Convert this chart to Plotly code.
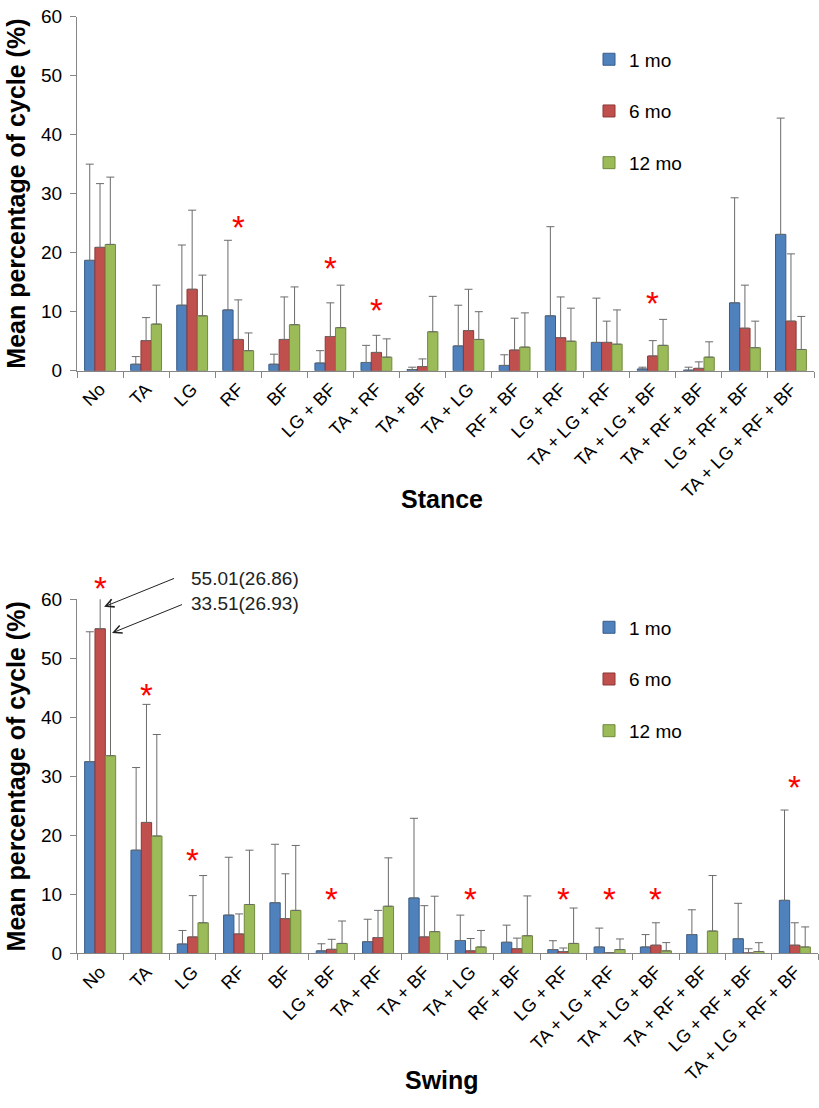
import plotly.graph_objects as go

W, H = 819, 1108

categories = ["No", "TA", "LG", "RF", "BF", "LG + BF", "TA + RF", "TA + BF", "TA + LG",
              "RF + BF", "LG + RF", "TA + LG + RF", "TA + LG + BF", "TA + RF + BF",
              "LG + RF + BF", "TA + LG + RF + BF"]
series_names = ["1 mo", "6 mo", "12 mo"]

# Stance: means and SD (upper error)
stance_1mo = [18.7, 1.1, 11.1, 10.3, 1.1, 1.3, 1.4, 0.2, 4.2, 0.9, 9.3, 4.8, 0.3, 0.1, 11.5, 23.1]
stance_1mo_sd = [16.3, 1.3, 10.2, 11.8, 1.7, 2.1, 2.9, 0.4, 6.9, 1.8, 15.1, 7.5, 0.3, 0.5, 17.8, 19.7]
stance_6mo = [20.9, 5.1, 13.8, 5.3, 5.3, 5.8, 3.1, 0.7, 6.8, 3.5, 5.6, 4.8, 2.5, 0.4, 7.2, 8.4]
stance_6mo_sd = [10.8, 3.9, 13.4, 6.7, 7.2, 5.7, 2.9, 1.3, 7.0, 5.4, 6.9, 3.6, 2.6, 1.1, 7.3, 11.4]
stance_12mo = [21.4, 7.9, 9.3, 3.4, 7.8, 7.3, 2.3, 6.6, 5.3, 4.0, 5.0, 4.5, 4.3, 2.3, 3.9, 3.6]
stance_12mo_sd = [11.4, 6.6, 6.9, 3.0, 6.4, 7.2, 3.1, 6.0, 4.7, 5.8, 5.6, 5.8, 4.4, 2.6, 4.5, 5.6]

# Swing: means and SD (upper error)
swing_1mo = [32.5, 17.5, 1.6, 6.5, 8.6, 0.44, 2.0, 9.4, 2.2, 1.9, 0.66, 1.1, 1.1, 3.2, 2.5, 9.0]
swing_1mo_sd = [22.0, 14.0, 2.3, 9.8, 9.9, 1.2, 3.8, 13.5, 4.3, 2.9, 1.5, 3.2, 2.1, 4.2, 6.0, 15.3]
swing_6mo = [55.01, 22.2, 2.8, 3.3, 5.9, 0.7, 2.7, 2.8, 0.44, 0.8, 0.33, 0.1, 1.4, 0.0, 0.1, 1.4]
swing_6mo_sd = [26.86, 20.0, 7.0, 3.4, 7.6, 1.7, 4.6, 5.3, 2.1, 1.8, 0.6, 0.0, 3.8, 0.0, 0.7, 3.8]
swing_12mo = [33.51, 19.9, 5.2, 8.3, 7.3, 1.7, 8.0, 3.7, 1.1, 3.0, 1.7, 0.66, 0.44, 3.8, 0.33, 1.1]
swing_12mo_sd = [26.93, 17.2, 8.0, 9.2, 11.0, 3.8, 8.2, 6.0, 2.8, 6.75, 6.0, 1.8, 1.4, 9.4, 1.5, 3.4]

# significance markers: (category, height in axis units)
stance_stars = [("RF", 25.7), ("LG + BF", 18.7), ("TA + RF", 11.6), ("TA + LG + BF", 12.7)]
swing_stars = [("No", 63.2), ("TA", 45.0), ("LG", 17.1), ("LG + BF", 10.5), ("TA + LG", 10.5),
               ("LG + RF", 10.5), ("TA + LG + RF", 10.5), ("TA + LG + BF", 10.5),
               ("TA + LG + RF + BF", 29.4)]

YMAX = 60
fills = ["#4F81BD", "#C0504D", "#9BBB59"]
edges = ["#385D8A", "#8C3836", "#71893F"]
FONT = "Liberation Sans, Arial, sans-serif"
AXC = "#868686"

fig = go.Figure()

panels = [
    ("x", "y", "legend", [stance_1mo, stance_6mo, stance_12mo],
     [stance_1mo_sd, stance_6mo_sd, stance_12mo_sd]),
    ("x2", "y2", "legend2", [swing_1mo, swing_6mo, swing_12mo],
     [swing_1mo_sd, swing_6mo_sd, swing_12mo_sd]),
]
for xa, ya, lg, vals, sds in panels:
    for i, name in enumerate(series_names):
        fig.add_trace(go.Bar(
            x=categories, y=vals[i], name=name, xaxis=xa, yaxis=ya, legend=lg,
            legendgroup=lg + name,
            marker=dict(color=fills[i], line=dict(color=edges[i], width=1)),
            error_y=dict(type="data", symmetric=False, array=sds[i],
                         arrayminus=[0] * len(sds[i]), color="#6b6b6b",
                         thickness=1, width=4),
        ))

def px2y(p):
    return 1 - p / H

axis_common = dict(showline=True, linecolor=AXC, linewidth=1, showgrid=False, zeroline=False,
                   ticks="outside", ticklen=6, tickcolor=AXC)
xtickfont = dict(family=FONT, size=18, color="#000")
ytickfont = dict(family=FONT, size=19, color="#000")

fig.update_layout(
    width=W, height=H, margin=dict(l=0, r=0, t=0, b=0),
    paper_bgcolor="white", plot_bgcolor="white",
    barmode="group", bargap=0.33, bargroupgap=0,
    font=dict(family=FONT, size=18, color="#000"),
    xaxis=dict(domain=[77 / W, 814 / W], anchor="y", type="category", tickfont=xtickfont,
               tickson="boundaries", tickangle=-45, **axis_common),
    yaxis=dict(domain=[px2y(367.7), px2y(6.7)], anchor="x", range=[0, YMAX], tickfont=ytickfont,
               tickvals=[0, 10, 20, 30, 40, 50, 60], ticklabelstandoff=4, **axis_common),
    xaxis2=dict(domain=[77 / W, 818 / W], anchor="y2", type="category", tickfont=xtickfont,
                tickson="boundaries", tickangle=-45, **axis_common),
    yaxis2=dict(domain=[px2y(961.7), px2y(600.7)], anchor="x2", range=[0, YMAX], tickfont=ytickfont,
                tickvals=[0, 10, 20, 30, 40, 50, 60], ticklabelstandoff=4, **axis_common),
    legend=dict(x=589 / W, y=px2y(31), xanchor="left", yanchor="top",
                font=dict(family=FONT, size=19), tracegroupgap=24, bgcolor="rgba(0,0,0,0)"),
    legend2=dict(x=589 / W, y=px2y(610), xanchor="left", yanchor="top",
                 font=dict(family=FONT, size=19), tracegroupgap=24, bgcolor="rgba(0,0,0,0)"),
    showlegend=True,
)

ann = []
for stars, xr, yr in [(stance_stars, "x", "y domain"), (swing_stars, "x2", "y2 domain")]:
    for cat, yv in stars:
        ann.append(dict(x=cat, y=yv / YMAX, xref=xr, yref=yr, text="*", showarrow=False,
                        font=dict(family=FONT, size=33, color="#FF0000"),
                        yanchor="middle", yshift=-8))

# axis titles
ytitle = "Mean percentage of cycle (%)"
for ymid in [(6.7 + 367.7) / 2, (600.7 + 961.7) / 2]:
    ann.append(dict(x=16 / W, y=px2y(ymid), xref="paper", yref="paper", text="<b>%s</b>" % ytitle,
                    textangle=-90, showarrow=False, font=dict(family=FONT, size=25, color="#000"),
                    xanchor="center", yanchor="middle"))
for txt, ypx in [("Stance", 498), ("Swing", 1091)]:
    ann.append(dict(x=442 / W, y=px2y(ypx), xref="paper", yref="paper", text="<b>%s</b>" % txt,
                    showarrow=False, font=dict(family=FONT, size=25, color="#000"),
                    xanchor="center", yanchor="middle"))

# value callouts for the bars whose error bars run off the axis
callouts = [("55.01(26.86)", 63.6, 58.73, 3.9), ("33.51(26.93)", 59.3, 54.3, 11.85)]
for txt, ty, hy, hs in callouts:
    ann.append(dict(x="No", y=hy / YMAX, xref="x2", yref="y2 domain", text="", showarrow=True,
                    arrowhead=5, arrowsize=1.6, arrowwidth=1, arrowcolor="#222",
                    ax=71.5, ay=-29, xshift=hs, standoff=0, startstandoff=0))
    ann.append(dict(x="No", y=ty / YMAX, xref="x2", yref="y2 domain", text=txt, showarrow=False,
                    xanchor="left", yanchor="middle", xshift=88.5,
                    font=dict(family=FONT, size=19, color="#222")))

fig.update_layout(annotations=ann)
fig.write_html("out.html", config={"displayModeBar": False},
               post_script="document.body.style.margin='0px';")
